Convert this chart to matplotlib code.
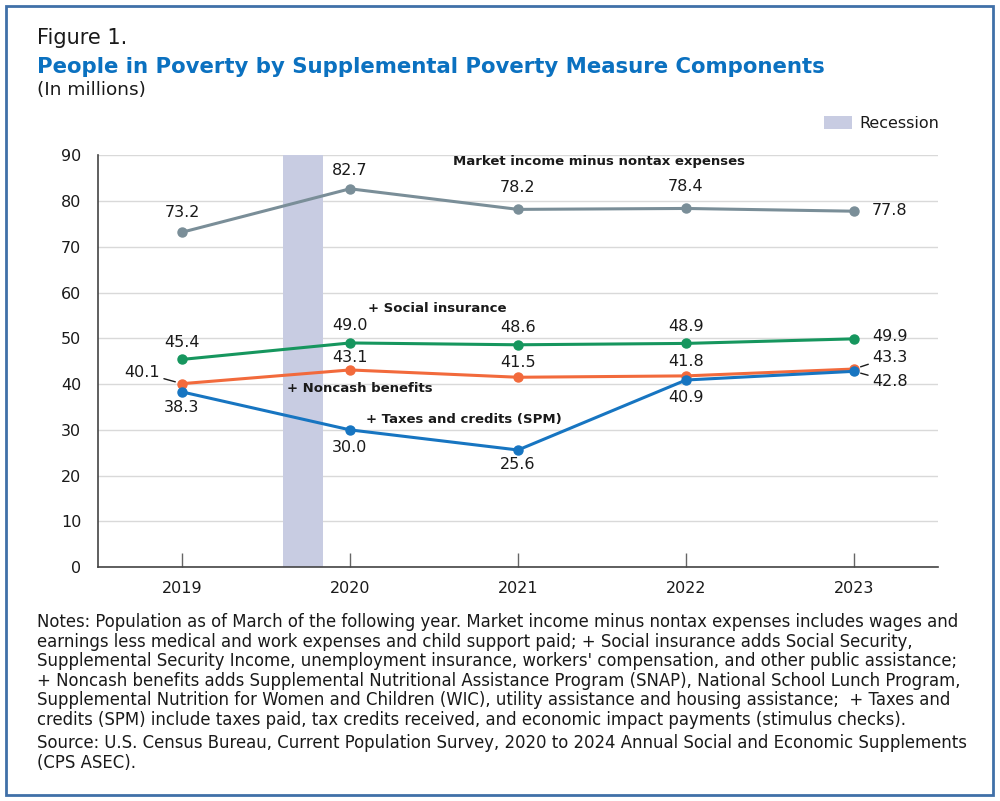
import matplotlib
matplotlib.use("Agg")
import matplotlib.pyplot as plt
from matplotlib.patches import Rectangle

years = [2019, 2020, 2021, 2022, 2023]
market = [73.2, 82.7, 78.2, 78.4, 77.8]
social = [45.4, 49.0, 48.6, 48.9, 49.9]
noncash = [40.1, 43.1, 41.5, 41.8, 43.3]
taxes = [38.3, 30.0, 25.6, 40.9, 42.8]
recession = (2019.6, 2019.84)
yticks = [0, 10, 20, 30, 40, 50, 60, 70, 80, 90]

# label offsets in pixels (dx, dy) for each point of each series
market_off = [(0, 20), (0, 18), (0, 22), (0, 22), (36, 1)]
social_off = [(0, 17), (0, 17), (0, 17), (0, 17), (36, 2)]
noncash_off = [(-40, 11), (0, 12), (0, 15), (0, 14), (36, 12)]
taxes_off = [(0, -16), (0, -18), (0, -15), (0, -17), (36, -10)]

c_market = "#7a8e98"
c_social = "#16965e"
c_noncash = "#f26a3c"
c_taxes = "#1775c1"
c_text = "#1a1a1a"

plt.rcParams["font.family"] = ["DejaVu Sans"]

fig = plt.figure(figsize=(10, 8.01), dpi=100)
ax = fig.add_axes([0.098, 0.292, 0.84, 0.514])

ax.axvspan(recession[0], recession[1], color="#c8cce2", lw=0, zorder=1)

series = [
    (market, c_market, market_off),
    (social, c_social, social_off),
    (noncash, c_noncash, noncash_off),
    (taxes, c_taxes, taxes_off),
]
for vals, col, offs in series:
    ax.plot(years, vals, color=col, lw=2.2, marker="o", ms=6.5, zorder=3)

for vals, col, offs in series:
    for x, v, (dx, dy) in zip(years, vals, offs):
        lead = abs(dx) > 0 and abs(dy) > 5
        ax.annotate(f"{v:.1f}", (x, v), xytext=(dx, dy), textcoords="offset pixels",
                    ha="center", va="center", fontsize=11.5, color=c_text, zorder=4,
                    arrowprops=dict(arrowstyle="-", color=c_text, lw=1,
                                    shrinkA=1, shrinkB=5) if lead else None)

ax.text(2021.48, 88.7, "Market income minus nontax expenses", ha="center", va="center",
        fontsize=9.5, fontweight="bold", color=c_text)
ax.text(2020.52, 56.6, "+ Social insurance", ha="center", va="center",
        fontsize=9.5, fontweight="bold", color=c_text)
ax.text(2020.06, 39.1, "+ Noncash benefits", ha="center", va="center",
        fontsize=9.5, fontweight="bold", color=c_text)
ax.text(2020.68, 32.3, "+ Taxes and credits (SPM)", ha="center", va="center",
        fontsize=9.5, fontweight="bold", color=c_text)

ax.set_xlim(2018.5, 2023.5)
ax.set_ylim(0, 90)
ax.set_yticks(yticks)
ax.set_xticks(years)
ax.set_xticklabels([str(y) for y in years])
ax.grid(axis="y", color="#d9d9d9", lw=1)
ax.set_axisbelow(True)
for s in ["top", "right"]:
    ax.spines[s].set_visible(False)
for s in ["left", "bottom"]:
    ax.spines[s].set_color("#444444")
    ax.spines[s].set_linewidth(1.2)
ax.tick_params(axis="y", length=0, pad=12, labelsize=11.5, labelcolor=c_text)
ax.tick_params(axis="x", direction="in", length=10, width=1, color="#666666",
               pad=10, labelsize=11.5, labelcolor=c_text)

# legend
fig.patches.append(Rectangle((0.824, (801 - 129) / 801), 0.028, 13 / 801,
                             transform=fig.transFigure, color="#c8cce2", lw=0))
fig.text(0.859, (801 - 123) / 801, "Recession", ha="left", va="center",
         fontsize=11.5, color=c_text)

# titles
fig.text(0.037, (801 - 38) / 801, "Figure 1.", ha="left", va="center",
         fontsize=15, color=c_text)
fig.text(0.037, (801 - 67) / 801, "People in Poverty by Supplemental Poverty Measure Components",
         ha="left", va="center", fontsize=15.3, fontweight="bold", color="#0b71c0")
fig.text(0.037, (801 - 90) / 801, "(In millions)", ha="left", va="center",
         fontsize=13.3, color=c_text)

notes = [
    "Notes: Population as of March of the following year. Market income minus nontax expenses includes wages and",
    "earnings less medical and work expenses and child support paid; + Social insurance adds Social Security,",
    "Supplemental Security Income, unemployment insurance, workers' compensation, and other public assistance;",
    "+ Noncash benefits adds Supplemental Nutritional Assistance Program (SNAP), National School Lunch Program,",
    "Supplemental Nutrition for Women and Children (WIC), utility assistance and housing assistance;  + Taxes and",
    "credits (SPM) include taxes paid, tax credits received, and economic impact payments (stimulus checks).",
]
source = [
    "Source: U.S. Census Bureau, Current Population Survey, 2020 to 2024 Annual Social and Economic Supplements",
    "(CPS ASEC).",
]
for i, line in enumerate(notes):
    fig.text(0.037, (801 - 622 - 19.6 * i) / 801, line, ha="left", va="center",
             fontsize=11.9, color=c_text)
for i, line in enumerate(source):
    fig.text(0.037, (801 - 743 - 19.6 * i) / 801, line, ha="left", va="center",
             fontsize=11.9, color=c_text)

# border
fig.patches.append(Rectangle((0.006, 0.007), 0.987, 0.986, transform=fig.transFigure,
                             fill=False, edgecolor="#4070a8", lw=2))

fig.savefig("out.png", dpi=100)
